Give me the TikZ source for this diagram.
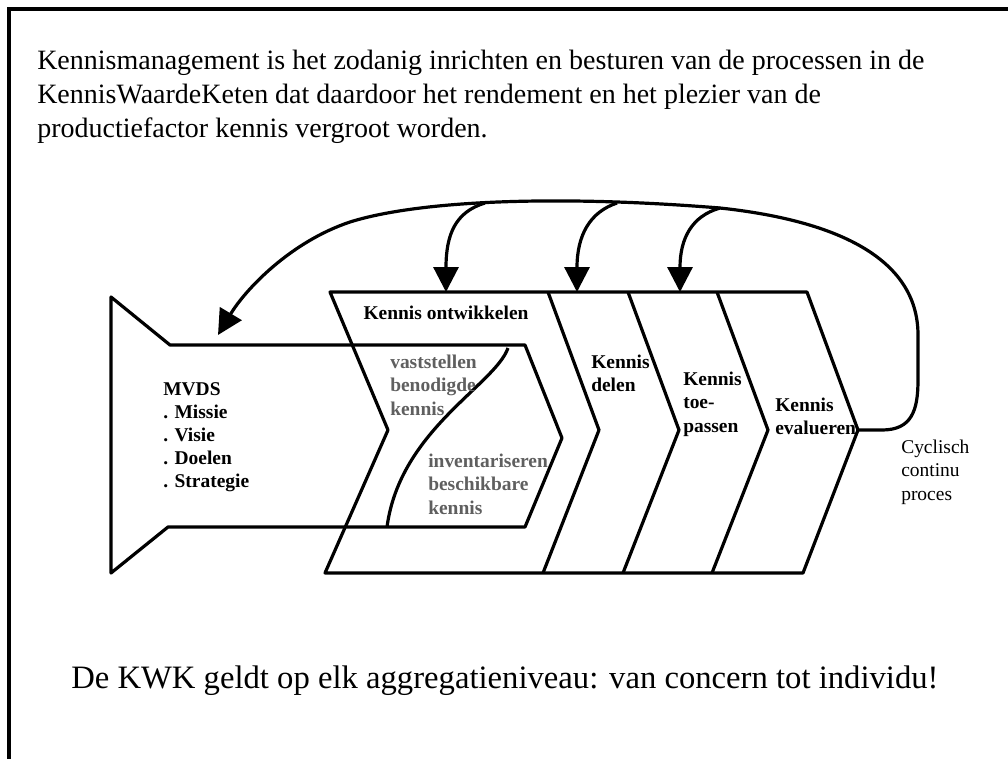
\documentclass[tikz,border=0pt]{standalone}
\usepackage{fontspec}
\setmainfont{Liberation Serif}
\usepackage{tikz}
\usetikzlibrary{positioning}
\usetikzlibrary{arrows.meta}
\definecolor{subgray}{RGB}{95,95,95}
\tikzset{
    shapeline/.style={line width=2.4pt, line join=round},
    feedback/.style={line width=2.4pt, -{Triangle[length=18.75pt,width=18.75pt]}},
    steplabel/.style={font=\fontsize{14.6}{17.4}\selectfont\bfseries, align=left, anchor=north west, inner sep=0pt},
    sublabel/.style={steplabel, text=subgray},
}

\begin{document}
\begin{tikzpicture}[x=0.75pt, y=-0.75pt]
    \useasboundingbox (0,0) rectangle (1008,758);
    \draw [line width=3pt] (9,9) rectangle (1030,780);

    \node [anchor=north west, inner sep=0pt, align=left, font=\fontsize{21}{25.5}\selectfont] at (37, 50) (Definitie)
        {Kennismanagement is het zodanig inrichten en besturen van de processen in de\\
         KennisWaardeKeten dat daardoor het rendement en het plezier van de\\
         productiefactor kennis vergroot worden.};

    % MVDS
    \draw [shapeline] (111,297) -- (170,345) -- (525,345) -- (562,438) -- (525,527) -- (168,527) -- (111,573) -- cycle;
    \draw [shapeline] (508,348) .. controls (495,385) and (400,430) .. (387,527);

    % KennisWaardeKeten
    \draw [shapeline] (330,292) -- (807,292) -- (858,430) -- (803,573) -- (325,573) -- (388,430) -- cycle;
    \foreach \t in {548, 628, 717}
        \draw [shapeline] (\t,292) -- ++(51,138) -- ++(-56,143);

    \node [steplabel, anchor=north] at (446,306) (Ontwikkelen) {Kennis ontwikkelen};
    \node [steplabel] at (163,382) (Mvds) {MVDS\\. Missie\\. Visie\\. Doelen\\. Strategie};
    \node [sublabel]  at (390,355) (Vaststellen) {vaststellen\\benodigde\\kennis};
    \node [sublabel]  at (428,454) (Inventariseren) {inventariseren\\beschikbare\\kennis};
    \node [steplabel] at (591,355) (Delen) {Kennis\\delen};
    \node [steplabel] at (683,372) (Toepassen) {Kennis\\toe-\\passen};
    \node [steplabel] at (775,398) (Evalueren) {Kennis\\evalueren};
    \node [steplabel, font=\fontsize{14.6}{17.4}\selectfont] at (901,440) (Cyclisch) {Cyclisch\\continu\\proces};

    \coordinate (EvaluerenTip) at (858,430);
    \coordinate (MvdsIn)       at (218,335);
    \coordinate (OntwikkelenIn) at (446,292);
    \coordinate (DelenIn)      at (577,292);
    \coordinate (ToepassenIn)  at (680,292);
    \coordinate (SplitA) at (485,203);
    \coordinate (SplitB) at (617,203);
    \coordinate (SplitC) at (720,208);

    % cyclisch terug
    \draw [feedback] (EvaluerenTip) -- (882,430) .. controls (912,430) and (918,410) .. (918,380) -- (918,335)
        .. controls (918,265) and (850,222) .. (SplitC) .. controls (560,195) and (420,200) .. (350,222)
        .. controls (290,242) and (245,290) .. (MvdsIn);
    \draw [feedback] (SplitA) .. controls (455,212) and (446,235) .. (OntwikkelenIn);
    \draw [feedback] (SplitB) .. controls (590,212) and (577,235) .. (DelenIn);
    \draw [feedback] (SplitC) .. controls (692,216) and (680,238) .. (ToepassenIn);

    \node [anchor=base west, inner sep=0pt, font=\fontsize{24.5}{29}\selectfont] at (71,688) (Slogan)
        {De KWK geldt op elk aggregatieniveau: van concern tot individu!};
\end{tikzpicture}
\end{document}
